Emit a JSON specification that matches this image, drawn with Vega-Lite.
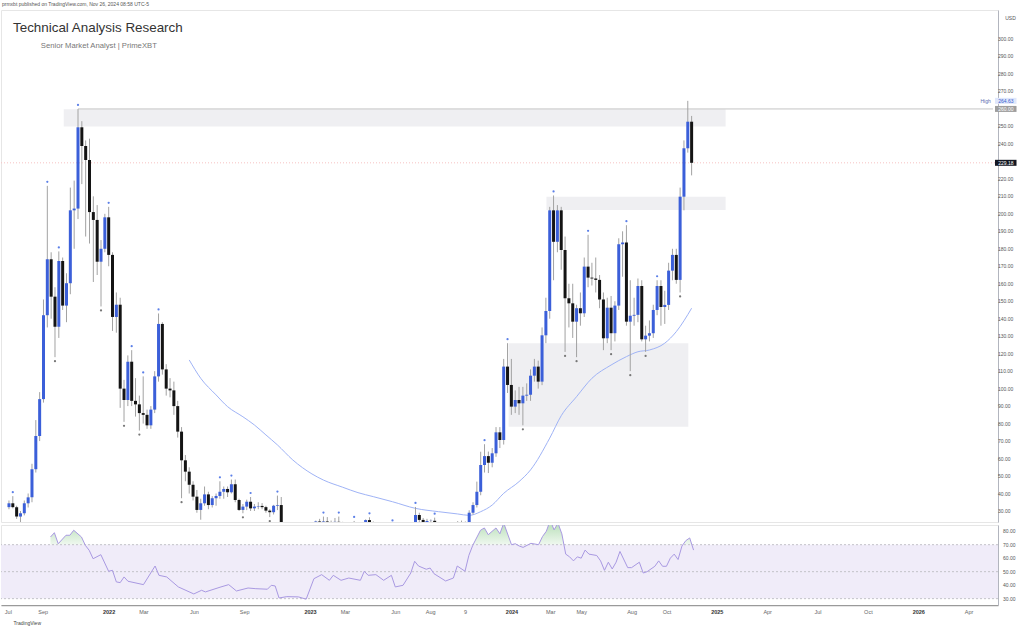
{
  "$schema": "https://vega.github.io/schema/vega-lite/v6.json",
  "background": "white",
  "padding": {"left": 0, "top": 1, "right": 0, "bottom": 0},
  "spacing": 1,
  "title": {"text": "prmxbt published on TradingView.com, Nov 26, 2024 08:58 UTC-5", "anchor": "start", "fontSize": 5, "font": "Liberation Sans", "fontWeight": "normal", "color": "#555555", "offset": 3, "dx": 2},
  "datasets": {
    "candles": [
      {"d":"2021-06-28","o":32.2,"h":36,"l":31,"c":34.4},
      {"d":"2021-07-05","o":34.4,"h":38.5,"l":31.5,"c":32.2,"mh":1},
      {"d":"2021-07-12","o":32.2,"h":33,"l":25.5,"c":26.8},
      {"d":"2021-07-19","o":26.8,"h":30,"l":22.5,"c":28.7},
      {"d":"2021-07-26","o":28.7,"h":36,"l":27.5,"c":34.4},
      {"d":"2021-08-02","o":34.4,"h":40,"l":32,"c":37.8},
      {"d":"2021-08-09","o":37.8,"h":57,"l":35,"c":53.9},
      {"d":"2021-08-16","o":53.9,"h":82,"l":52,"c":72.9},
      {"d":"2021-08-23","o":72.9,"h":98,"l":70,"c":94},
      {"d":"2021-08-30","o":94,"h":151,"l":92,"c":142},
      {"d":"2021-09-06","o":142,"h":216,"l":135,"c":174,"mh":1},
      {"d":"2021-09-13","o":174,"h":178,"l":140,"c":152.6},
      {"d":"2021-09-20","o":152.6,"h":158,"l":118,"c":135.4,"ml":1},
      {"d":"2021-09-27","o":135.4,"h":178.5,"l":129,"c":173,"mh":1},
      {"d":"2021-10-04","o":173,"h":175,"l":145,"c":147.5},
      {"d":"2021-10-11","o":147.5,"h":166,"l":138,"c":160.3},
      {"d":"2021-10-18","o":160.3,"h":215,"l":154,"c":202},
      {"d":"2021-10-25","o":202,"h":219,"l":180,"c":203},
      {"d":"2021-11-01","o":203,"h":260,"l":197,"c":249.5,"mh":1},
      {"d":"2021-11-08","o":249.5,"h":253,"l":217,"c":238.8},
      {"d":"2021-11-15","o":238.8,"h":242,"l":187,"c":230.8},
      {"d":"2021-11-22","o":230.8,"h":243,"l":183,"c":201},
      {"d":"2021-11-29","o":201,"h":210,"l":161,"c":196.5},
      {"d":"2021-12-06","o":196.5,"h":205,"l":165,"c":172.6},
      {"d":"2021-12-13","o":172.6,"h":185,"l":147,"c":180,"ml":1},
      {"d":"2021-12-20","o":180,"h":200,"l":178,"c":198},
      {"d":"2021-12-27","o":198,"h":204,"l":170,"c":176.5,"mh":1},
      {"d":"2022-01-03","o":176.5,"h":178,"l":133,"c":141},
      {"d":"2022-01-10","o":141,"h":155,"l":132,"c":148},
      {"d":"2022-01-17","o":148,"h":152,"l":89,"c":100},
      {"d":"2022-01-24","o":100,"h":105,"l":81,"c":93.5,"ml":1},
      {"d":"2022-01-31","o":93.5,"h":119,"l":90,"c":115.4},
      {"d":"2022-02-07","o":115.4,"h":122,"l":90,"c":93,"mh":1},
      {"d":"2022-02-14","o":93,"h":106,"l":84,"c":91},
      {"d":"2022-02-21","o":91,"h":96,"l":76,"c":86,"ml":1},
      {"d":"2022-02-28","o":86,"h":107,"l":80,"c":85,"mh":1},
      {"d":"2022-03-07","o":85,"h":88,"l":77,"c":79},
      {"d":"2022-03-14","o":79,"h":90,"l":77,"c":88},
      {"d":"2022-03-21","o":88,"h":110,"l":86,"c":107},
      {"d":"2022-03-28","o":107,"h":143,"l":104,"c":137,"mh":1},
      {"d":"2022-04-04","o":137,"h":138,"l":108,"c":111},
      {"d":"2022-04-11","o":111,"h":114,"l":96,"c":100},
      {"d":"2022-04-18","o":100,"h":106,"l":95,"c":99},
      {"d":"2022-04-25","o":99,"h":104,"l":85,"c":90},
      {"d":"2022-05-02","o":90,"h":93,"l":72,"c":75.4},
      {"d":"2022-05-09","o":75.4,"h":78,"l":37.3,"c":59,"ml":1},
      {"d":"2022-05-16","o":59,"h":62,"l":47,"c":52.5},
      {"d":"2022-05-23","o":52.5,"h":55,"l":40,"c":45},
      {"d":"2022-05-30","o":45,"h":47,"l":36,"c":38.2},
      {"d":"2022-06-06","o":38.2,"h":42,"l":29,"c":30.6},
      {"d":"2022-06-13","o":30.6,"h":37,"l":25,"c":34.4,"ml":1},
      {"d":"2022-06-20","o":34.4,"h":44,"l":33,"c":39.5},
      {"d":"2022-06-27","o":39.5,"h":41,"l":31,"c":33.4},
      {"d":"2022-07-04","o":33.4,"h":38.5,"l":32,"c":37.3},
      {"d":"2022-07-11","o":37.3,"h":40,"l":33,"c":38.6},
      {"d":"2022-07-18","o":38.6,"h":47,"l":37,"c":41,"mh":1},
      {"d":"2022-07-25","o":41,"h":44,"l":37,"c":42.6},
      {"d":"2022-08-01","o":42.6,"h":44,"l":38,"c":40.7},
      {"d":"2022-08-08","o":40.7,"h":48,"l":40,"c":45.3,"mh":1},
      {"d":"2022-08-15","o":45.3,"h":48,"l":35,"c":36.3},
      {"d":"2022-08-22","o":36.3,"h":37,"l":30,"c":30.6},
      {"d":"2022-08-29","o":30.6,"h":34,"l":28.7,"c":32.5,"ml":1},
      {"d":"2022-09-05","o":32.5,"h":36.5,"l":30.5,"c":35.3},
      {"d":"2022-09-12","o":35.3,"h":38,"l":30,"c":31.5,"mh":1},
      {"d":"2022-09-19","o":31.5,"h":34,"l":30,"c":32.5},
      {"d":"2022-09-26","o":32.5,"h":35,"l":31,"c":32.9},
      {"d":"2022-10-03","o":32.9,"h":34.5,"l":31,"c":32.2},
      {"d":"2022-10-10","o":32.2,"h":33,"l":29,"c":30.2},
      {"d":"2022-10-17","o":30.2,"h":31,"l":26.5,"c":29.3,"ml":1},
      {"d":"2022-10-24","o":29.3,"h":33.5,"l":28,"c":33},
      {"d":"2022-10-31","o":33,"h":38.8,"l":30.5,"c":33.4,"mh":1},
      {"d":"2022-11-07","o":33.4,"h":38,"l":11,"c":14},
      {"d":"2022-11-14","o":14,"h":15.2,"l":12.1,"c":13},
      {"d":"2022-11-21","o":13,"h":14.4,"l":10.9,"c":13.3},
      {"d":"2022-11-28","o":13.3,"h":14.7,"l":12.8,"c":13.4},
      {"d":"2022-12-05","o":13.4,"h":14.9,"l":13.1,"c":13.6},
      {"d":"2022-12-12","o":13.6,"h":14.2,"l":11,"c":11.7},
      {"d":"2022-12-19","o":11.7,"h":12.2,"l":10.8,"c":11.3},
      {"d":"2022-12-26","o":11.3,"h":11.4,"l":8,"c":10},
      {"d":"2023-01-02","o":10,"h":17.2,"l":9.6,"c":13.8},
      {"d":"2023-01-09","o":13.8,"h":24.5,"l":13.5,"c":24},
      {"d":"2023-01-16","o":24,"h":25.5,"l":20.5,"c":23},
      {"d":"2023-01-23","o":23,"h":26.8,"l":22.5,"c":24,"mh":1},
      {"d":"2023-01-30","o":24,"h":26.5,"l":22,"c":23.5},
      {"d":"2023-02-06","o":23.5,"h":24.5,"l":19.8,"c":20.5},
      {"d":"2023-02-13","o":20.5,"h":26,"l":20,"c":23.8},
      {"d":"2023-02-20","o":23.8,"h":26.8,"l":22,"c":22.7,"mh":1},
      {"d":"2023-02-27","o":22.7,"h":23.8,"l":20.5,"c":21},
      {"d":"2023-03-06","o":21,"h":22,"l":15.8,"c":17},
      {"d":"2023-03-13","o":17,"h":23,"l":16.5,"c":22},
      {"d":"2023-03-20","o":22,"h":24.3,"l":19.5,"c":21.6,"mh":1},
      {"d":"2023-03-27","o":21.6,"h":22,"l":19.5,"c":20.9},
      {"d":"2023-04-03","o":20.9,"h":21.4,"l":19.5,"c":20.5},
      {"d":"2023-04-10","o":20.5,"h":25.2,"l":20,"c":24.8},
      {"d":"2023-04-17","o":24.8,"h":26.4,"l":20.7,"c":21.5,"mh":1},
      {"d":"2023-04-24","o":21.5,"h":24,"l":20.5,"c":22.8},
      {"d":"2023-05-01","o":22.8,"h":23.3,"l":20.5,"c":21},
      {"d":"2023-05-08","o":21,"h":21.8,"l":19.4,"c":20.5},
      {"d":"2023-05-15","o":20.5,"h":21.2,"l":19.6,"c":20.1},
      {"d":"2023-05-22","o":20.1,"h":21.4,"l":19.5,"c":20.9},
      {"d":"2023-05-29","o":20.9,"h":22.3,"l":19.5,"c":20,"mh":1},
      {"d":"2023-06-05","o":20,"h":21,"l":13.6,"c":14.9},
      {"d":"2023-06-12","o":14.9,"h":16.3,"l":14,"c":15.2},
      {"d":"2023-06-19","o":15.2,"h":18,"l":14.8,"c":16.6},
      {"d":"2023-06-26","o":16.6,"h":19.5,"l":16.3,"c":19.1},
      {"d":"2023-07-03","o":19.1,"h":22.5,"l":18.5,"c":21.7},
      {"d":"2023-07-10","o":21.7,"h":32.3,"l":21,"c":27.7,"mh":1},
      {"d":"2023-07-17","o":27.7,"h":29,"l":23.5,"c":24.9},
      {"d":"2023-07-24","o":24.9,"h":26,"l":22.2,"c":23.6},
      {"d":"2023-07-31","o":23.6,"h":25.5,"l":22.5,"c":24.3},
      {"d":"2023-08-07","o":24.3,"h":25.2,"l":23.2,"c":24.4},
      {"d":"2023-08-14","o":24.4,"h":26.2,"l":17,"c":20.8,"mh":1},
      {"d":"2023-08-21","o":20.8,"h":22.2,"l":19.8,"c":21.5},
      {"d":"2023-08-28","o":21.5,"h":22.3,"l":19,"c":19.6},
      {"d":"2023-09-04","o":19.6,"h":20.1,"l":18.2,"c":18.8},
      {"d":"2023-09-11","o":18.8,"h":20.3,"l":17.3,"c":19.7},
      {"d":"2023-09-18","o":19.7,"h":20.7,"l":18.7,"c":19.6},
      {"d":"2023-09-25","o":19.6,"h":24.2,"l":19.3,"c":22.7},
      {"d":"2023-10-02","o":22.7,"h":24.5,"l":21.5,"c":22.3},
      {"d":"2023-10-09","o":22.3,"h":24,"l":21,"c":21.6},
      {"d":"2023-10-16","o":21.6,"h":30.4,"l":21.2,"c":29},
      {"d":"2023-10-23","o":29,"h":35,"l":28,"c":33.4},
      {"d":"2023-10-30","o":33.4,"h":46.8,"l":32,"c":41},
      {"d":"2023-11-06","o":41,"h":63.9,"l":39,"c":56.3},
      {"d":"2023-11-13","o":56.3,"h":68.2,"l":52,"c":61.4,"mh":1},
      {"d":"2023-11-20","o":61.4,"h":64,"l":51.7,"c":57.6},
      {"d":"2023-11-27","o":57.6,"h":66,"l":55,"c":63},
      {"d":"2023-12-04","o":63,"h":78,"l":61,"c":75},
      {"d":"2023-12-11","o":75,"h":78,"l":66,"c":70.6},
      {"d":"2023-12-18","o":70.6,"h":117,"l":68,"c":112.6},
      {"d":"2023-12-25","o":112.6,"h":126,"l":97.5,"c":102.1,"mh":1},
      {"d":"2024-01-01","o":102.1,"h":117,"l":85,"c":89.7},
      {"d":"2024-01-08","o":89.7,"h":99,"l":86,"c":93.5},
      {"d":"2024-01-15","o":93.5,"h":101,"l":85,"c":91.6},
      {"d":"2024-01-22","o":91.6,"h":101,"l":79,"c":96,"ml":1},
      {"d":"2024-01-29","o":96,"h":103,"l":93,"c":96.5},
      {"d":"2024-02-05","o":96.5,"h":111,"l":93,"c":107.4},
      {"d":"2024-02-12","o":107.4,"h":117,"l":104,"c":112.6},
      {"d":"2024-02-19","o":112.6,"h":116,"l":100,"c":104},
      {"d":"2024-02-26","o":104,"h":135,"l":102,"c":130.5},
      {"d":"2024-03-04","o":130.5,"h":152,"l":126,"c":144.4},
      {"d":"2024-03-11","o":144.4,"h":204,"l":140,"c":202},
      {"d":"2024-03-18","o":202,"h":210.5,"l":162,"c":184,"mh":1},
      {"d":"2024-03-25","o":184,"h":205,"l":178,"c":202},
      {"d":"2024-04-01","o":202,"h":204,"l":168,"c":179.3},
      {"d":"2024-04-08","o":179.3,"h":187,"l":121,"c":151.7,"ml":1},
      {"d":"2024-04-15","o":151.7,"h":160,"l":135,"c":148.8},
      {"d":"2024-04-22","o":148.8,"h":160,"l":129,"c":138.3},
      {"d":"2024-04-29","o":138.3,"h":148,"l":118,"c":146,"ml":1},
      {"d":"2024-05-06","o":146,"h":155,"l":136,"c":143.1},
      {"d":"2024-05-13","o":143.1,"h":175,"l":141,"c":169.8},
      {"d":"2024-05-20","o":169.8,"h":188,"l":158,"c":163.5,"mh":1},
      {"d":"2024-05-27","o":163.5,"h":172,"l":159,"c":163},
      {"d":"2024-06-03","o":163,"h":175,"l":155,"c":162.2},
      {"d":"2024-06-10","o":162.2,"h":165,"l":146,"c":151},
      {"d":"2024-06-17","o":151,"h":155,"l":122,"c":128.8},
      {"d":"2024-06-24","o":128.8,"h":152,"l":126,"c":146.3},
      {"d":"2024-07-01","o":146.3,"h":153,"l":122,"c":131.7,"ml":1},
      {"d":"2024-07-08","o":131.7,"h":150,"l":127,"c":147.5},
      {"d":"2024-07-15","o":147.5,"h":186,"l":145,"c":182.6},
      {"d":"2024-07-22","o":182.6,"h":190,"l":164,"c":183.6},
      {"d":"2024-07-29","o":183.6,"h":193.5,"l":136,"c":138.3,"mh":1},
      {"d":"2024-08-05","o":138.3,"h":162,"l":110,"c":141.7,"ml":1},
      {"d":"2024-08-12","o":141.7,"h":152,"l":136,"c":142.2},
      {"d":"2024-08-19","o":142.2,"h":163,"l":138,"c":158.7},
      {"d":"2024-08-26","o":158.7,"h":162,"l":127,"c":128.2},
      {"d":"2024-09-02","o":128.2,"h":136,"l":121,"c":130.3,"ml":1},
      {"d":"2024-09-09","o":130.3,"h":139,"l":127,"c":131.7},
      {"d":"2024-09-16","o":131.7,"h":148,"l":129,"c":145},
      {"d":"2024-09-23","o":145,"h":162,"l":142,"c":158.7,"mh":1},
      {"d":"2024-09-30","o":158.7,"h":162,"l":136,"c":146.7},
      {"d":"2024-10-07","o":146.7,"h":156,"l":137,"c":147.9},
      {"d":"2024-10-14","o":147.9,"h":172,"l":145,"c":167.5},
      {"d":"2024-10-21","o":167.5,"h":180,"l":162,"c":176.5},
      {"d":"2024-10-28","o":176.5,"h":180,"l":160,"c":162.2},
      {"d":"2024-11-04","o":162.2,"h":215,"l":155,"c":209.8,"ml":1},
      {"d":"2024-11-11","o":209.8,"h":242,"l":202,"c":237.5},
      {"d":"2024-11-18","o":237.5,"h":264.63,"l":235,"c":252.7},
      {"d":"2024-11-25","o":252.7,"h":256,"l":222,"c":229.18}
    ],
    "ma": [
      {"d":"2022-05-23","v":116.4},{"d":"2022-06-13","v":105.9},{"d":"2022-07-11","v":96.4},{"d":"2022-08-01","v":89.7},
      {"d":"2022-08-29","v":83.9},{"d":"2022-09-19","v":79.2},{"d":"2022-10-10","v":73.5},{"d":"2022-10-31","v":67.8},
      {"d":"2022-11-28","v":59.2},{"d":"2023-01-02","v":51.2},{"d":"2023-01-23","v":47.7},{"d":"2023-02-27","v":43.6},
      {"d":"2023-03-27","v":40.5},{"d":"2023-04-24","v":38.2},{"d":"2023-05-29","v":35.3},{"d":"2023-07-10","v":31.5},
      {"d":"2023-08-21","v":29.6},{"d":"2023-09-25","v":28.3},{"d":"2023-10-16","v":27.5},{"d":"2023-11-06","v":29.6},
      {"d":"2023-11-27","v":33.4},{"d":"2023-12-18","v":40.1},{"d":"2024-01-15","v":46.8},{"d":"2024-02-05","v":53.5},
      {"d":"2024-03-11","v":71.7},{"d":"2024-04-01","v":84.5},{"d":"2024-04-29","v":95.4},{"d":"2024-05-27","v":105.9},
      {"d":"2024-07-01","v":113.5},{"d":"2024-07-29","v":118.3},{"d":"2024-08-19","v":121.1},{"d":"2024-09-09","v":122.1},
      {"d":"2024-10-07","v":126},{"d":"2024-10-28","v":132.6},{"d":"2024-11-25","v":146}
    ],
    "rsi": [
      {"d":"2021-09-20","v":75.7},{"d":"2021-09-27","v":78.9},{"d":"2021-10-04","v":70.7},{"d":"2021-10-18","v":77},
      {"d":"2021-10-25","v":77},{"d":"2021-11-01","v":80.7},{"d":"2021-11-15","v":75.7},{"d":"2021-11-22","v":69.5},
      {"d":"2021-11-29","v":65.8},{"d":"2021-12-06","v":59.6},{"d":"2021-12-20","v":62.6},{"d":"2022-01-03","v":50.3},
      {"d":"2022-01-10","v":51},{"d":"2022-01-17","v":42.4},{"d":"2022-01-24","v":41.9},{"d":"2022-01-31","v":46.1},
      {"d":"2022-02-07","v":42.9},{"d":"2022-03-07","v":40.4},{"d":"2022-03-28","v":54.2},{"d":"2022-04-04","v":47.3},
      {"d":"2022-04-18","v":46.1},{"d":"2022-05-09","v":38.7},{"d":"2022-06-06","v":33.5},{"d":"2022-06-20","v":36.2},
      {"d":"2022-06-27","v":35},{"d":"2022-07-25","v":38.7},{"d":"2022-08-08","v":40.4},{"d":"2022-08-22","v":35.7},
      {"d":"2022-09-12","v":37.9},{"d":"2022-09-26","v":37.4},{"d":"2022-10-17","v":37},{"d":"2022-10-24","v":39.9},
      {"d":"2022-10-31","v":39.4},{"d":"2022-11-07","v":30.5},{"d":"2022-11-21","v":31.5},{"d":"2022-12-12","v":31.3},
      {"d":"2022-12-26","v":29.6},{"d":"2023-01-09","v":44.8},{"d":"2023-01-23","v":47.8},{"d":"2023-02-06","v":43.6},
      {"d":"2023-02-13","v":47.3},{"d":"2023-02-27","v":43.6},{"d":"2023-03-13","v":45.3},{"d":"2023-04-03","v":43.6},
      {"d":"2023-04-10","v":50.3},{"d":"2023-04-17","v":47.3},{"d":"2023-05-01","v":47.8},{"d":"2023-05-15","v":43.6},
      {"d":"2023-05-29","v":47.3},{"d":"2023-06-05","v":38.7},{"d":"2023-06-19","v":39.9},{"d":"2023-07-03","v":49},
      {"d":"2023-07-10","v":57.7},{"d":"2023-07-17","v":54.2},{"d":"2023-07-31","v":51.8},{"d":"2023-08-07","v":52.7},
      {"d":"2023-08-14","v":48.5},{"d":"2023-09-04","v":43.1},{"d":"2023-09-18","v":45.3},{"d":"2023-09-25","v":54.2},
      {"d":"2023-10-09","v":50.3},{"d":"2023-10-16","v":62.1},{"d":"2023-10-23","v":69.5},{"d":"2023-11-06","v":80.7},
      {"d":"2023-11-13","v":82.4},{"d":"2023-11-20","v":77.4},{"d":"2023-12-04","v":82.4},{"d":"2023-12-11","v":78.1},
      {"d":"2023-12-18","v":86},{"d":"2024-01-01","v":70},{"d":"2024-01-08","v":70.7},{"d":"2024-01-15","v":69},
      {"d":"2024-01-22","v":68},{"d":"2024-02-05","v":71},{"d":"2024-02-19","v":70},{"d":"2024-02-26","v":76},
      {"d":"2024-03-04","v":80},{"d":"2024-03-11","v":88},{"d":"2024-03-18","v":81},{"d":"2024-03-25","v":86},
      {"d":"2024-04-01","v":78},{"d":"2024-04-08","v":63},{"d":"2024-04-15","v":61},{"d":"2024-04-22","v":58},
      {"d":"2024-04-29","v":61},{"d":"2024-05-06","v":60},{"d":"2024-05-13","v":66},{"d":"2024-05-20","v":63},
      {"d":"2024-06-03","v":62},{"d":"2024-06-10","v":58},{"d":"2024-06-17","v":51},{"d":"2024-06-24","v":57},
      {"d":"2024-07-01","v":52},{"d":"2024-07-08","v":57},{"d":"2024-07-15","v":65},{"d":"2024-07-29","v":53},
      {"d":"2024-08-05","v":53},{"d":"2024-08-19","v":57},{"d":"2024-08-26","v":49},{"d":"2024-09-02","v":50},
      {"d":"2024-09-16","v":54},{"d":"2024-09-23","v":58},{"d":"2024-09-30","v":54},{"d":"2024-10-07","v":54},
      {"d":"2024-10-14","v":60},{"d":"2024-10-21","v":63},{"d":"2024-10-28","v":59},{"d":"2024-11-04","v":69},
      {"d":"2024-11-11","v":73},{"d":"2024-11-18","v":75},{"d":"2024-11-25","v":66}
    ],
    "zones": [
      {"x1":"2021-10-06","x2":"2025-01-26","y1":249.9,"y2":259.8},
      {"x1":"2024-03-05","x2":"2025-01-26","y1":202.2,"y2":209.8},
      {"x1":"2023-12-27","x2":"2024-11-19","y1":78.2,"y2":126}
    ],
    "tags": [
      {"p":264.63,"k":"high"},
      {"p":260,"k":"level"},
      {"p":229.18,"k":"close"}
    ],
    "priceTicks": [
      {"v":30},{"v":40},{"v":50},{"v":60},{"v":70},{"v":80},{"v":90},{"v":100},{"v":110},{"v":120},{"v":130},{"v":140},{"v":150},{"v":160},
      {"v":170},{"v":180},{"v":190},{"v":200},{"v":210},{"v":220},{"v":240},{"v":250},{"v":270},{"v":280},{"v":290},{"v":300}
    ],
    "rsiTicks": [{"v":30},{"v":40},{"v":50},{"v":60},{"v":70},{"v":80}]
  },
  "vconcat": [
    {
      "width": 997,
      "height": 512,
      "title": {"text": "Technical Analysis Research", "subtitle": "\u200b\u00a0\u00a0\u00a0\u00a0\u00a0\u00a0\u00a0\u00a0\u00a0\u00a0\u00a0\u00a0\u00a0Senior Market Analyst | PrimeXBT", "anchor": "start", "frame": "group", "dx": 12, "offset": -40, "fontSize": 13.4, "fontWeight": "normal", "color": "#333333", "font": "Liberation Sans", "subtitleFont": "Liberation Sans", "subtitleFontSize": 7.7, "subtitleColor": "#777777", "subtitlePadding": 8},
      "layer": [
        {
          "data": {"name": "zones"},
          "mark": {"type": "rect", "color": "#efeff2", "clip": true},
          "encoding": {
            "x": {"field": "x1", "type": "temporal", "axis": null, "scale": {"type": "utc", "domain": [{"year": 2021, "month": 6, "date": 22, "hours": 14, "utc": true}, {"year": 2026, "month": 5, "date": 29, "hours": 2, "utc": true}]}},
            "x2": {"field": "x2"},
            "y": {"field": "y1", "type": "quantitative", "scale": {"domain": [23.7, 316.6], "nice": false, "zero": false},
              "axis": {"orient": "right", "values": [30, 300], "labels": false, "ticks": false, "grid": false, "domainColor": "#b2b5be", "domainWidth": 1, "title": "USD", "titleAngle": 0, "titleX": 12, "titleY": 7, "titleAlign": "center", "titleBaseline": "middle", "titleFontSize": 5, "titleFontWeight": "normal", "titleColor": "#555555"}},
            "y2": {"field": "y2"}
          }
        },
        {
          "data": {"values": [{"x1": "2021-11-01", "x2": "2026-05-29", "y": 260}]},
          "mark": {"type": "rule", "color": "#c4c4c4", "strokeWidth": 1, "clip": true},
          "encoding": {"x": {"field": "x1", "type": "temporal"}, "x2": {"field": "x2"}, "y": {"field": "y", "type": "quantitative"}}
        },
        {
          "data": {"values": [{"p": 229.18}]},
          "mark": {"type": "rule", "color": "#f6c2c2", "strokeWidth": 1, "strokeDash": [1, 2]},
          "encoding": {"y": {"field": "p", "type": "quantitative"}}
        },
        {
          "data": {"name": "ma"},
          "mark": {"type": "line", "color": "#9fb3f6", "strokeWidth": 1, "interpolate": "monotone", "clip": true},
          "encoding": {"x": {"field": "d", "type": "temporal"}, "y": {"field": "v", "type": "quantitative"}}
        },
        {
          "data": {"name": "candles"},
          "mark": {"type": "rule", "color": "#a2a2a2", "strokeWidth": 1, "clip": true},
          "encoding": {"x": {"field": "d", "type": "temporal"}, "y": {"field": "l", "type": "quantitative"}, "y2": {"field": "h"}}
        },
        {
          "data": {"name": "candles"},
          "mark": {"type": "bar", "width": 3, "clip": true},
          "encoding": {
            "x": {"field": "d", "type": "temporal"},
            "y": {"field": "o", "type": "quantitative"},
            "y2": {"field": "c"},
            "color": {"condition": {"test": "datum.c >= datum.o", "value": "#3b5fd9"}, "value": "#141414"}
          }
        },
        {
          "data": {"name": "candles"},
          "transform": [{"filter": "datum.mh == 1"}],
          "mark": {"type": "circle", "size": 5, "color": "#5b7fe8", "opacity": 1, "yOffset": -4, "clip": true},
          "encoding": {"x": {"field": "d", "type": "temporal"}, "y": {"field": "h", "type": "quantitative"}}
        },
        {
          "data": {"name": "candles"},
          "transform": [{"filter": "datum.ml == 1"}],
          "mark": {"type": "circle", "size": 5, "color": "#777777", "opacity": 1, "yOffset": 4, "clip": true},
          "encoding": {"x": {"field": "d", "type": "temporal"}, "y": {"field": "l", "type": "quantitative"}}
        },
        {
          "data": {"name": "priceTicks"},
          "mark": {"type": "text", "fontSize": 5, "baseline": "middle", "align": "left", "color": "#555555"},
          "encoding": {
            "x": {"datum": {"year": 2026, "month": 6, "date": 7, "hours": 3, "utc": true}, "type": "temporal"},
            "y": {"field": "v", "type": "quantitative"},
            "text": {"field": "v", "type": "quantitative", "format": ".2f"}
          }
        },
        {
          "data": {"name": "tags"},
          "mark": {"type": "rect", "height": 6},
          "encoding": {
            "x": {"datum": {"year": 2026, "month": 6, "date": 1, "hours": 17, "utc": true}, "type": "temporal"},
            "x2": {"datum": {"year": 2026, "month": 7, "date": 11, "utc": true}},
            "y": {"field": "p", "type": "quantitative"},
            "color": {"field": "k", "type": "nominal", "legend": null, "scale": {"domain": ["high", "level", "close"], "range": ["#dfe7fb", "#9e9e9e", "#131722"]}}
          }
        },
        {
          "data": {"name": "tags"},
          "mark": {"type": "text", "fontSize": 5, "baseline": "middle", "align": "center"},
          "encoding": {
            "x": {"datum": {"year": 2026, "month": 6, "date": 21, "hours": 12, "utc": true}, "type": "temporal"},
            "y": {"field": "p", "type": "quantitative"},
            "text": {"field": "p", "type": "quantitative", "format": ".2f"},
            "color": {"field": "k", "type": "nominal", "legend": null, "scale": {"domain": ["high", "level", "close"], "range": ["#3a5fcf", "#ffffff", "#ffffff"]}}
          }
        },
        {
          "data": {"name": "tags"},
          "transform": [{"filter": "datum.k == 'high'"}],
          "mark": {"type": "text", "fontSize": 5, "baseline": "middle", "align": "right", "color": "#5a6fb0", "text": "High"},
          "encoding": {
            "x": {"datum": {"year": 2026, "month": 5, "date": 25, "utc": true}, "type": "temporal"},
            "y": {"field": "p", "type": "quantitative"}
          }
        }
      ],
      "resolve": {"scale": {"color": "independent"}}
    },
    {
      "width": 997,
      "height": 80,
      "layer": [
        {
          "data": {"name": "rsi"},
          "mark": {"type": "area", "clip": true, "color": {"gradient": "linear", "x1": 0, "y1": 0, "x2": 0, "y2": 1, "stops": [{"offset": 0, "color": "#b3dcb3"}, {"offset": 0.3, "color": "#edf7ed"}, {"offset": 1, "color": "#ffffff"}]}},
          "encoding": {
            "x": {"field": "d", "type": "temporal", "scale": {"type": "utc", "domain": [{"year": 2021, "month": 6, "date": 22, "hours": 14, "utc": true}, {"year": 2026, "month": 5, "date": 29, "hours": 2, "utc": true}]},
              "axis": {"orient": "bottom", "values": [
                {"year": 2021, "month": 7, "date": 5, "utc": true},
                {"year": 2021, "month": 9, "date": 6, "utc": true},
                {"year": 2022, "month": 1, "date": 3, "utc": true},
                {"year": 2022, "month": 3, "date": 7, "utc": true},
                {"year": 2022, "month": 6, "date": 6, "utc": true},
                {"year": 2022, "month": 9, "date": 5, "utc": true},
                {"year": 2023, "month": 1, "date": 2, "utc": true},
                {"year": 2023, "month": 3, "date": 6, "utc": true},
                {"year": 2023, "month": 6, "date": 5, "utc": true},
                {"year": 2023, "month": 8, "date": 7, "utc": true},
                {"year": 2023, "month": 10, "date": 9, "utc": true},
                {"year": 2024, "month": 1, "date": 1, "utc": true},
                {"year": 2024, "month": 3, "date": 11, "utc": true},
                {"year": 2024, "month": 5, "date": 6, "utc": true},
                {"year": 2024, "month": 8, "date": 5, "utc": true},
                {"year": 2024, "month": 10, "date": 7, "utc": true},
                {"year": 2025, "month": 1, "date": 6, "utc": true},
                {"year": 2025, "month": 4, "date": 7, "utc": true},
                {"year": 2025, "month": 7, "date": 7, "utc": true},
                {"year": 2025, "month": 10, "date": 6, "utc": true},
                {"year": 2026, "month": 1, "date": 5, "utc": true},
                {"year": 2026, "month": 4, "date": 6, "utc": true}
              ],
              "labelExpr": "utcmonth(datum.value) == 0 ? utcFormat(datum.value, '%Y') : ((utcyear(datum.value) == 2023 && utcmonth(datum.value) == 9) ? '9' : utcFormat(datum.value, '%b'))",
              "labelFontWeight": {"condition": {"test": "utcmonth(datum.value) == 0", "value": "bold"}, "value": "normal"},
              "labelColor": {"condition": {"test": "utcmonth(datum.value) == 0", "value": "#333333"}, "value": "#666666"},
              "labelFontSize": 5.5, "labelPadding": 4, "ticks": false, "grid": false, "domainColor": "#9a9a9a", "domainWidth": 1.5, "labelOverlap": false, "labelFlush": false,
              "title": "TradingView", "titleAnchor": "start", "titleAlign": "left", "titleX": 12, "titleY": 17, "titleBaseline": "middle", "titleFontSize": 5, "titleFontWeight": "normal", "titleColor": "#444444"}},
            "y": {"field": "v", "type": "quantitative", "scale": {"domain": [25.3, 84.6], "nice": false, "zero": false},
              "axis": {"orient": "right", "values": [30, 80], "labels": false, "ticks": false, "grid": false, "domainColor": "#b2b5be", "domainWidth": 1, "title": null}},
            "y2": {"datum": 70}
          }
        },
        {
          "data": {"values": [{"a": 70, "b": 30}]},
          "mark": {"type": "rect", "color": "#f0ecf9"},
          "encoding": {
            "x": {"datum": {"year": 2021, "month": 6, "date": 22, "hours": 14, "utc": true}, "type": "temporal"},
            "x2": {"datum": {"year": 2026, "month": 5, "date": 29, "hours": 2, "utc": true}},
            "y": {"field": "a", "type": "quantitative"}, "y2": {"field": "b"}}
        },
        {
          "data": {"values": [{"a": 30, "b": 25.3}]},
          "mark": {"type": "rect", "color": "#ffffff"},
          "encoding": {
            "x": {"datum": {"year": 2021, "month": 6, "date": 22, "hours": 14, "utc": true}, "type": "temporal"},
            "x2": {"datum": {"year": 2026, "month": 5, "date": 29, "hours": 2, "utc": true}},
            "y": {"field": "a", "type": "quantitative"}, "y2": {"field": "b"}}
        },
        {
          "data": {"values": [{"v": 70}, {"v": 50}, {"v": 30}]},
          "mark": {"type": "rule", "color": "#c2c2c8", "strokeWidth": 1, "strokeDash": [2, 2]},
          "encoding": {"y": {"field": "v", "type": "quantitative"}}
        },
        {
          "data": {"name": "rsi"},
          "mark": {"type": "line", "color": "#a999e2", "strokeWidth": 1, "clip": true},
          "encoding": {"x": {"field": "d", "type": "temporal"}, "y": {"field": "v", "type": "quantitative"}}
        },
        {
          "data": {"name": "rsiTicks"},
          "mark": {"type": "text", "fontSize": 5, "baseline": "middle", "align": "left", "color": "#555555"},
          "encoding": {
            "x": {"datum": {"year": 2026, "month": 6, "date": 7, "hours": 3, "utc": true}, "type": "temporal"},
            "y": {"field": "v", "type": "quantitative"},
            "text": {"field": "v", "type": "quantitative", "format": ".2f"}
          }
        }
      ]
    }
  ],
  "config": {
    "view": {"stroke": "#e6e6e6"},
    "font": "Liberation Sans"
  }
}
